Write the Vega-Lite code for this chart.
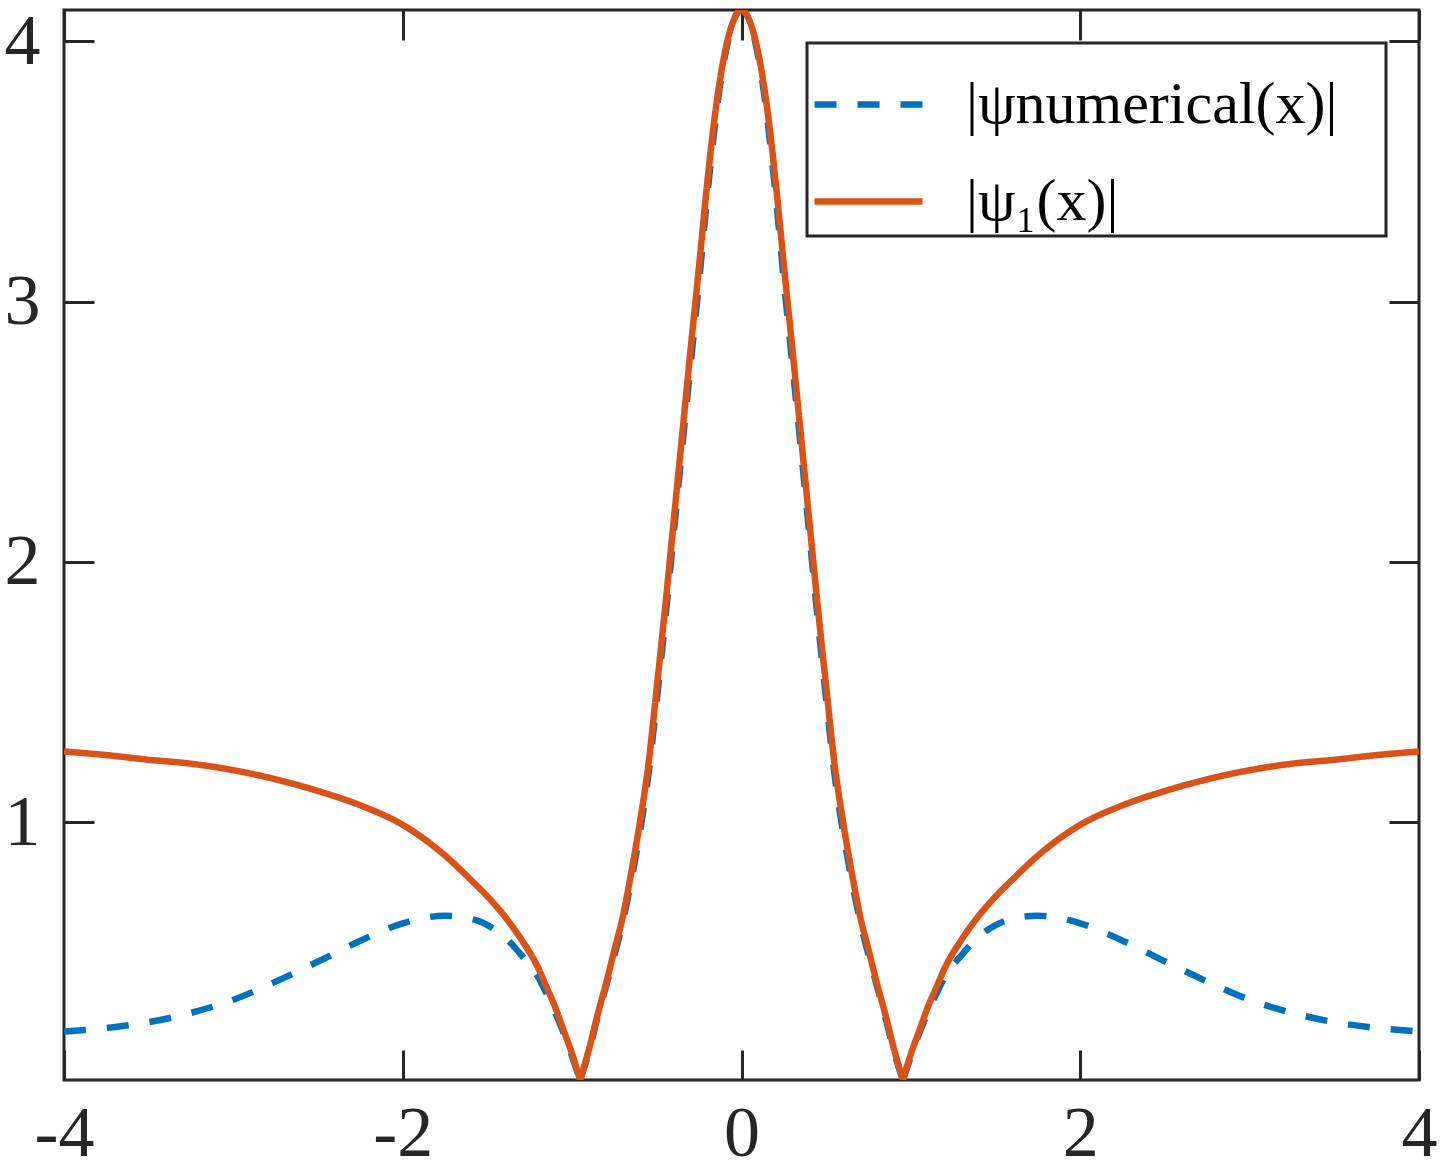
{
  "$schema": "https://vega.github.io/schema/vega-lite/v6.json",
  "width": 1355,
  "height": 1070,
  "autosize": {"type": "none"},
  "padding": {"left": 64, "top": 10, "right": 24, "bottom": 95},
  "background": "white",
  "config": {
    "view": {"stroke": "#262626", "strokeWidth": 3},
    "axis": {
      "grid": false,
      "domain": false,
      "ticks": true,
      "tickColor": "#262626",
      "tickWidth": 3,
      "tickSize": -30,
      "labelFont": "Liberation Serif",
      "labelFontSize": 72,
      "labelColor": "#262626",
      "labelFlush": false,
      "labelOverlap": false,
      "title": null
    },
    "legend": {"strokeWidth": 3}
  },
  "datasets": {
    "num": [
      {"x": -4, "y": 0.196, "seg": 1}, {"x": -3.75, "y": 0.21, "seg": 1}, {"x": -3.5, "y": 0.232, "seg": 1}, {"x": -3.25, "y": 0.268, "seg": 1},
      {"x": -3, "y": 0.318, "seg": 1}, {"x": -2.75, "y": 0.388, "seg": 1}, {"x": -2.5, "y": 0.465, "seg": 1}, {"x": -2.25, "y": 0.545, "seg": 1},
      {"x": -2, "y": 0.612, "seg": 1}, {"x": -1.75, "y": 0.641, "seg": 1}, {"x": -1.6, "y": 0.63, "seg": 1}, {"x": -1.5, "y": 0.605, "seg": 1},
      {"x": -1.4, "y": 0.56, "seg": 1}, {"x": -1.3, "y": 0.49, "seg": 1}, {"x": -1.2, "y": 0.405, "seg": 1}, {"x": -1.15, "y": 0.34, "seg": 1},
      {"x": -1.1, "y": 0.27, "seg": 1}, {"x": -1.05, "y": 0.19, "seg": 1}, {"x": -1, "y": 0.1, "seg": 1}, {"x": -0.953, "y": 0.01, "seg": 1},
      {"x": -0.953, "y": 0.01, "seg": 2},
      {"x": -0.9, "y": 0.12, "seg": 2}, {"x": -0.85, "y": 0.25, "seg": 2}, {"x": -0.8, "y": 0.37, "seg": 2}, {"x": -0.75, "y": 0.49, "seg": 2},
      {"x": -0.7, "y": 0.62, "seg": 2}, {"x": -0.65, "y": 0.78, "seg": 2}, {"x": -0.6, "y": 0.96, "seg": 2}, {"x": -0.55, "y": 1.18, "seg": 2},
      {"x": -0.5, "y": 1.47, "seg": 2}, {"x": -0.45, "y": 1.78, "seg": 2}, {"x": -0.4, "y": 2.11, "seg": 2}, {"x": -0.35, "y": 2.44, "seg": 2},
      {"x": -0.3, "y": 2.76, "seg": 2}, {"x": -0.25, "y": 3.08, "seg": 2}, {"x": -0.2, "y": 3.42, "seg": 2}, {"x": -0.16, "y": 3.66, "seg": 2},
      {"x": -0.12, "y": 3.86, "seg": 2}, {"x": -0.08, "y": 4.0, "seg": 2}, {"x": -0.04, "y": 4.09, "seg": 2}, {"x": 0, "y": 4.12, "seg": 2},
      {"x": 0.04, "y": 4.09, "seg": 2}, {"x": 0.08, "y": 4.0, "seg": 2}, {"x": 0.12, "y": 3.86, "seg": 2}, {"x": 0.16, "y": 3.66, "seg": 2},
      {"x": 0.2, "y": 3.42, "seg": 2}, {"x": 0.25, "y": 3.08, "seg": 2}, {"x": 0.3, "y": 2.76, "seg": 2}, {"x": 0.35, "y": 2.44, "seg": 2},
      {"x": 0.4, "y": 2.11, "seg": 2}, {"x": 0.45, "y": 1.78, "seg": 2}, {"x": 0.5, "y": 1.47, "seg": 2}, {"x": 0.55, "y": 1.18, "seg": 2},
      {"x": 0.6, "y": 0.96, "seg": 2}, {"x": 0.65, "y": 0.78, "seg": 2}, {"x": 0.7, "y": 0.62, "seg": 2}, {"x": 0.75, "y": 0.49, "seg": 2},
      {"x": 0.8, "y": 0.37, "seg": 2}, {"x": 0.85, "y": 0.25, "seg": 2}, {"x": 0.9, "y": 0.12, "seg": 2}, {"x": 0.953, "y": 0.01, "seg": 2},
      {"x": 0.953, "y": 0.01, "seg": 3},
      {"x": 1, "y": 0.1, "seg": 3}, {"x": 1.05, "y": 0.19, "seg": 3}, {"x": 1.1, "y": 0.27, "seg": 3}, {"x": 1.15, "y": 0.34, "seg": 3},
      {"x": 1.2, "y": 0.405, "seg": 3}, {"x": 1.3, "y": 0.49, "seg": 3}, {"x": 1.4, "y": 0.56, "seg": 3}, {"x": 1.5, "y": 0.605, "seg": 3},
      {"x": 1.6, "y": 0.63, "seg": 3}, {"x": 1.75, "y": 0.641, "seg": 3}, {"x": 2, "y": 0.612, "seg": 3}, {"x": 2.25, "y": 0.545, "seg": 3},
      {"x": 2.5, "y": 0.465, "seg": 3}, {"x": 2.75, "y": 0.388, "seg": 3}, {"x": 3, "y": 0.318, "seg": 3}, {"x": 3.25, "y": 0.268, "seg": 3},
      {"x": 3.5, "y": 0.232, "seg": 3}, {"x": 3.75, "y": 0.21, "seg": 3}, {"x": 4, "y": 0.196, "seg": 3}
    ],
    "psi1": [
      {"x": -4, "y": 1.272, "seg": 1}, {"x": -3.75, "y": 1.258, "seg": 1}, {"x": -3.5, "y": 1.24, "seg": 1}, {"x": -3.25, "y": 1.225, "seg": 1},
      {"x": -3, "y": 1.2, "seg": 1}, {"x": -2.75, "y": 1.165, "seg": 1}, {"x": -2.5, "y": 1.12, "seg": 1}, {"x": -2.25, "y": 1.065, "seg": 1},
      {"x": -2, "y": 0.99, "seg": 1}, {"x": -1.75, "y": 0.872, "seg": 1}, {"x": -1.6, "y": 0.78, "seg": 1}, {"x": -1.5, "y": 0.715, "seg": 1},
      {"x": -1.4, "y": 0.64, "seg": 1}, {"x": -1.3, "y": 0.55, "seg": 1}, {"x": -1.2, "y": 0.44, "seg": 1}, {"x": -1.15, "y": 0.365, "seg": 1},
      {"x": -1.1, "y": 0.29, "seg": 1}, {"x": -1.05, "y": 0.2, "seg": 1}, {"x": -1, "y": 0.11, "seg": 1}, {"x": -0.953, "y": 0.01, "seg": 1},
      {"x": -0.953, "y": 0.01, "seg": 2},
      {"x": -0.9, "y": 0.13, "seg": 2}, {"x": -0.85, "y": 0.26, "seg": 2}, {"x": -0.8, "y": 0.38, "seg": 2}, {"x": -0.75, "y": 0.51, "seg": 2},
      {"x": -0.7, "y": 0.64, "seg": 2}, {"x": -0.65, "y": 0.81, "seg": 2}, {"x": -0.6, "y": 1.0, "seg": 2}, {"x": -0.55, "y": 1.22, "seg": 2},
      {"x": -0.5, "y": 1.52, "seg": 2}, {"x": -0.45, "y": 1.83, "seg": 2}, {"x": -0.4, "y": 2.16, "seg": 2}, {"x": -0.35, "y": 2.49, "seg": 2},
      {"x": -0.3, "y": 2.82, "seg": 2}, {"x": -0.25, "y": 3.14, "seg": 2}, {"x": -0.2, "y": 3.47, "seg": 2}, {"x": -0.16, "y": 3.7, "seg": 2},
      {"x": -0.12, "y": 3.88, "seg": 2}, {"x": -0.08, "y": 4.01, "seg": 2}, {"x": -0.04, "y": 4.09, "seg": 2}, {"x": 0, "y": 4.12, "seg": 2},
      {"x": 0.04, "y": 4.09, "seg": 2}, {"x": 0.08, "y": 4.01, "seg": 2}, {"x": 0.12, "y": 3.88, "seg": 2}, {"x": 0.16, "y": 3.7, "seg": 2},
      {"x": 0.2, "y": 3.47, "seg": 2}, {"x": 0.25, "y": 3.14, "seg": 2}, {"x": 0.3, "y": 2.82, "seg": 2}, {"x": 0.35, "y": 2.49, "seg": 2},
      {"x": 0.4, "y": 2.16, "seg": 2}, {"x": 0.45, "y": 1.83, "seg": 2}, {"x": 0.5, "y": 1.52, "seg": 2}, {"x": 0.55, "y": 1.22, "seg": 2},
      {"x": 0.6, "y": 1.0, "seg": 2}, {"x": 0.65, "y": 0.81, "seg": 2}, {"x": 0.7, "y": 0.64, "seg": 2}, {"x": 0.75, "y": 0.51, "seg": 2},
      {"x": 0.8, "y": 0.38, "seg": 2}, {"x": 0.85, "y": 0.26, "seg": 2}, {"x": 0.9, "y": 0.13, "seg": 2}, {"x": 0.953, "y": 0.01, "seg": 2},
      {"x": 0.953, "y": 0.01, "seg": 3},
      {"x": 1, "y": 0.11, "seg": 3}, {"x": 1.05, "y": 0.2, "seg": 3}, {"x": 1.1, "y": 0.29, "seg": 3}, {"x": 1.15, "y": 0.365, "seg": 3},
      {"x": 1.2, "y": 0.44, "seg": 3}, {"x": 1.3, "y": 0.55, "seg": 3}, {"x": 1.4, "y": 0.64, "seg": 3}, {"x": 1.5, "y": 0.715, "seg": 3},
      {"x": 1.6, "y": 0.78, "seg": 3}, {"x": 1.75, "y": 0.872, "seg": 3}, {"x": 2, "y": 0.99, "seg": 3}, {"x": 2.25, "y": 1.065, "seg": 3},
      {"x": 2.5, "y": 1.12, "seg": 3}, {"x": 2.75, "y": 1.165, "seg": 3}, {"x": 3, "y": 1.2, "seg": 3}, {"x": 3.25, "y": 1.225, "seg": 3},
      {"x": 3.5, "y": 1.24, "seg": 3}, {"x": 3.75, "y": 1.258, "seg": 3}, {"x": 4, "y": 1.272, "seg": 3}
    ]
  },
  "resolve": {"axis": {"x": "independent", "y": "independent"}},
  "layer": [
    {
      "data": {"name": "num"},
      "mark": {"type": "line", "strokeWidth": 6.5, "clip": true, "interpolate": "monotone"},
      "encoding": {
        "x": {
          "field": "x", "type": "quantitative",
          "scale": {"domain": [-4, 4], "nice": false},
          "axis": {
            "orient": "bottom", "values": [-4, -2, 0, 2, 4], "labelPadding": 48,
            "labelExpr": "datum.value < 0 ? '-' + format(-datum.value, 'd') : format(datum.value, 'd')"
          }
        },
        "y": {
          "field": "y", "type": "quantitative",
          "scale": {"domain": [0.01, 4.12], "nice": false, "zero": false},
          "axis": {"orient": "left", "values": [1, 2, 3, 4], "labelPadding": 54}
        },
        "detail": {"field": "seg", "type": "nominal"},
        "color": {
          "datum": "|ψnumerical(x)|",
          "scale": {"domain": ["|ψnumerical(x)|", "|ψ₁(x)|"], "range": ["#0072BD", "#D95319"]},
          "legend": {
            "title": null,
            "orient": "top-right",
            "offset": 33,
            "padding": 4,
            "rowPadding": 9,
            "strokeColor": "#262626",
            "fillColor": "white",
            "symbolType": "stroke",
            "symbolSize": 11664,
            "symbolStrokeWidth": 6.5,
            "labelFont": "Liberation Serif",
            "labelFontSize": 60,
            "labelColor": "black",
            "labelOffset": 40,
            "labelLimit": 800,
            "labelExpr": "datum.label + '\u2800'"
          }
        },
        "strokeDash": {
          "datum": "|ψnumerical(x)|",
          "scale": {"domain": ["|ψnumerical(x)|", "|ψ₁(x)|"], "range": [[22, 21], [1, 0]]}
        }
      }
    },
    {
      "data": {"name": "psi1"},
      "mark": {"type": "line", "strokeWidth": 6.5, "clip": true, "interpolate": "monotone"},
      "encoding": {
        "x": {
          "field": "x", "type": "quantitative",
          "scale": {"domain": [-4, 4], "nice": false},
          "axis": {"orient": "top", "values": [-4, -2, 0, 2, 4], "labels": false}
        },
        "y": {
          "field": "y", "type": "quantitative",
          "scale": {"domain": [0.01, 4.12], "nice": false, "zero": false},
          "axis": {"orient": "right", "values": [1, 2, 3, 4], "labels": false}
        },
        "detail": {"field": "seg", "type": "nominal"},
        "color": {"datum": "|ψ₁(x)|"},
        "strokeDash": {"datum": "|ψ₁(x)|"}
      }
    }
  ]
}
